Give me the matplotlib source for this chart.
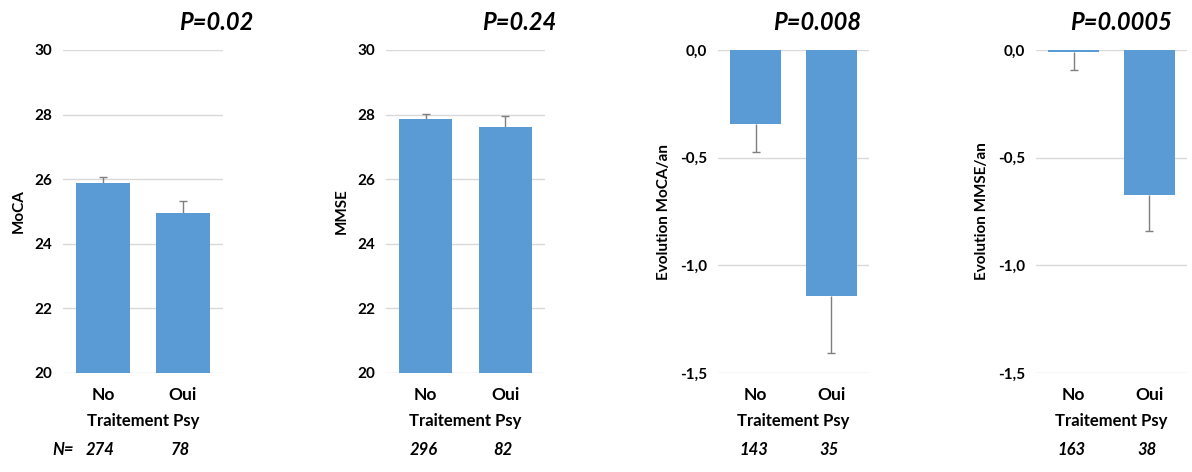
import matplotlib
matplotlib.use("Agg")
import matplotlib.pyplot as plt
from matplotlib.ticker import FuncFormatter
import matplotlib.transforms as mtransforms

plt.rcParams["font.family"] = ["Lato", "DejaVu Sans"]

groups = ["No", "Oui"]

moca = [25.88, 24.96]
moca_err = [0.20, 0.35]
mmse = [27.85, 27.61]
mmse_err = [0.18, 0.36]
evol_moca = [-0.345, -1.143]
evol_moca_err = [0.13, 0.263]
evol_mmse = [-0.011, -0.672]
evol_mmse_err = [0.082, 0.169]

p_values = ["P=0.02", "P=0.24", "P=0.008", "P=0.0005"]
n_counts = [[274, 78], [296, 82], [143, 35], [163, 38]]
ylabels = ["MoCA", "MMSE", "Evolution MoCA/an", "Evolution MMSE/an"]

BLUE = "#5B9BD5"
GRID = "#D9D9D9"

fig = plt.figure(figsize=(11.92, 4.72), dpi=100)

# axes rectangles (fig fraction)
rects = [
    (63 / 1192, 99 / 472, 160 / 1192, 323 / 472),
    (386 / 1192, 99 / 472, 159 / 1192, 323 / 472),
    (718 / 1192, 99 / 472, 151 / 1192, 323 / 472),
    (1036 / 1192, 99 / 472, 151 / 1192, 323 / 472),
]
title_x = [216, 519, 817, 1121]

panels = [
    (moca, moca_err, (20, 30), [20, 22, 24, 26, 28, 30]),
    (mmse, mmse_err, (20, 30), [20, 22, 24, 26, 28, 30]),
    (evol_moca, evol_moca_err, (-1.5, 0), [-1.5, -1.0, -0.5, 0.0]),
    (evol_mmse, evol_mmse_err, (-1.5, 0), [-1.5, -1.0, -0.5, 0.0]),
]

comma = FuncFormatter(lambda v, pos: f"{v:.1f}".replace(".", ","))

for i, (vals, errs, ylim, ticks) in enumerate(panels):
    ax = fig.add_axes(rects[i])
    x = list(range(len(groups)))
    negative = all(v < 0 for v in vals)
    # one-sided error bars, pointing away from zero / baseline
    lower = [e if negative else 0 for e in errs]
    upper = [0 if negative else e for e in errs]
    base = ylim[0] if ylim[0] > 0 else 0
    ax.bar(x, [v - base for v in vals], bottom=base, width=0.67, color=BLUE,
           linewidth=0, zorder=3)
    eb = ax.errorbar(x, vals, yerr=[lower, upper], fmt="none", ecolor="#7f7f7f",
                     elinewidth=1, capsize=3, capthick=1, zorder=2)
    # caps come as (lower, upper): hide the one sitting on the bar end
    caps = eb[1]
    caps[1 if negative else 0].set_visible(False)
    ax.set_xlim(-0.5, 1.5)
    ax.set_ylim(*ylim)
    ax.set_yticks(ticks)
    if ylim[1] == 0:
        ax.yaxis.set_major_formatter(comma)
    ax.grid(axis="y", color=GRID, linewidth=1, zorder=0)
    for s in ax.spines.values():
        s.set_visible(False)
    ax.tick_params(length=0, labelsize=11, pad=8)
    for lab in ax.get_yticklabels():
        lab.set_fontweight("bold")
    ax.set_xticks(x)
    ax.set_xticklabels(groups, fontweight="bold", fontsize=12.5)
    ax.tick_params(axis="x", pad=10)
    ax.set_xlabel("Traitement Psy", fontweight="bold", fontsize=12, labelpad=7)
    ax.set_ylabel(ylabels[i], fontweight="bold", fontsize=11, labelpad=6)

    fig.text(title_x[i] / 1192, 1 - 22 / 472, p_values[i], ha="center", va="center",
             fontsize=17, fontweight="bold", style="italic")

    trans = mtransforms.blended_transform_factory(ax.transData, fig.transFigure)
    for xi, n in zip(x, n_counts[i]):
        ax.text(xi - 0.03, 1 - 450 / 472, str(n), transform=trans, ha="center",
                va="center", fontsize=12, fontweight="bold", style="italic")
    if i == 0:
        fig.text(63 / 1192, 1 - 450 / 472, "N=", ha="center", va="center",
                 fontsize=12, fontweight="bold", style="italic")

plt.savefig("out.png", dpi=100, facecolor="white")
